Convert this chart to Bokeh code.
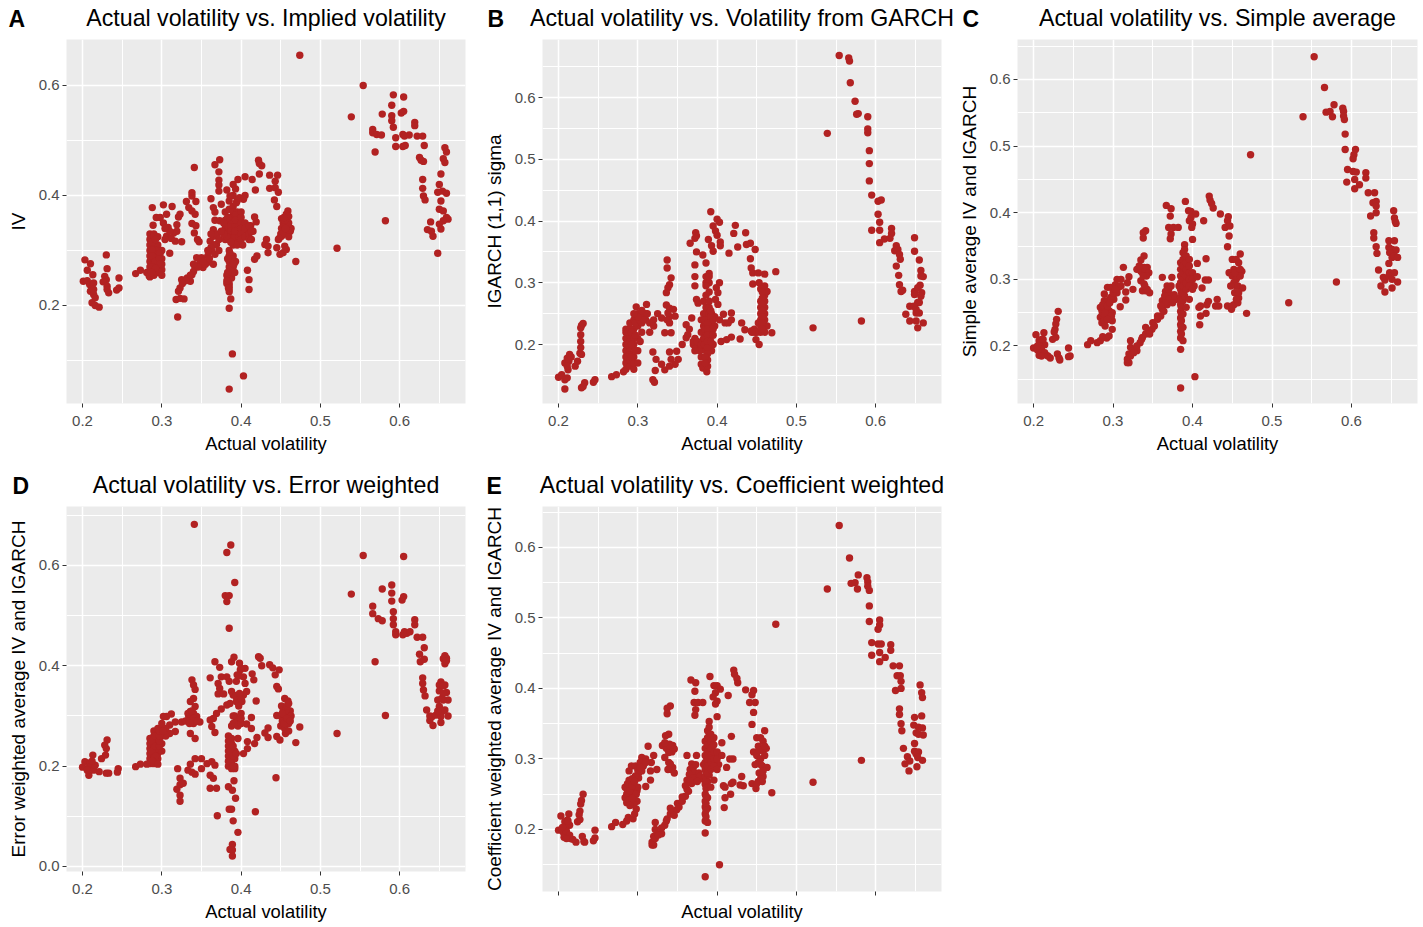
from bokeh.plotting import figure
from bokeh.layouts import column, row
from bokeh.models import FixedTicker, Range1d, PrintfTickFormatter, Title
from bokeh.embed import file_html
from bokeh.resources import INLINE

titles = ["Actual volatility vs. Implied volatility", "Actual volatility vs. Volatility from GARCH",
          "Actual volatility vs. Simple average", "Actual volatility vs. Error weighted",
          "Actual volatility vs. Coefficient weighted"]
letters = ["A", "B", "C", "D", "E"]
y_labels = ["IV", "IGARCH (1,1) sigma", "Simple average IV and IGARCH",
            "Error weighted average IV and IGARCH", "Coefficient weighted average IV and IGARCH"]
x_label = "Actual volatility"
x_ticks = [0.2, 0.3, 0.4, 0.5, 0.6]
x_minor = [0.25, 0.35, 0.45, 0.55, 0.65]

a_points = [
(.203,.283),(.21,.276),(.206,.264),(.201,.244),(.206,.245),(.213,.256),(.209,.238),(.212,.232),(.214,.241),(.21,.226),(.214,.22),(.212,.205),(.216,.2),(.221,.197),(.216,.214),(.214,.229),
(.23,.292),(.231,.267),(.228,.253),(.23,.247),(.226,.243),(.231,.235),(.233,.223),(.231,.229),(.246,.25),(.246,.232),(.243,.228),
(.267,.258),(.273,.264),(.281,.26),(.284,.254),(.285,.252),
(.285,.33),(.285,.32),(.285,.31),(.285,.30),(.285,.29),(.285,.28),(.285,.27),(.29,.33),(.29,.325),(.29,.315),(.29,.305),(.29,.295),(.29,.285),(.29,.275),(.29,.265),(.29,.255),(.295,.325),(.295,.31),(.295,.30),(.295,.29),(.295,.28),(.295,.27),(.295,.26),(.30,.30),(.30,.285),(.30,.275),(.30,.265),(.298,.26),
(.292,.3),(.288,.3),(.288,.29),(.292,.28),(.288,.27),(.288,.315),(.292,.32),(.298,.295),(.297,.285),(.298,.275),(.292,.268),(.287,.26),(.3,.255),
(.288,.378),(.302,.383),(.313,.38),(.293,.36),(.289,.346),(.298,.36),(.306,.366),(.302,.35),(.308,.342),(.319,.347),(.321,.361),(.319,.335),(.306,.326),(.312,.322),(.317,.317),(.325,.316),(.31,.295),(.304,.32),(.315,.332),(.323,.366),(.31,.335),(.304,.34),
(.341,.451),(.338,.405),(.338,.399),(.331,.389),(.343,.389),(.334,.378),(.338,.372),(.342,.366),(.338,.349),(.343,.345),(.341,.332),(.345,.32),(.347,.316),
(.32,.179),(.318,.211),(.323,.213),(.328,.212),(.323,.232),(.325,.247),(.321,.226),(.336,.244),(.338,.256),(.342,.269),(.344,.287),(.348,.278),(.352,.269),(.35,.287),(.359,.279),(.365,.275),(.363,.299),(.367,.293),(.361,.317),(.365,.326),(.369,.311),(.365,.338),(.372,.3),(.366,.31),(.355,.275),(.34,.262),(.332,.25),
(.37,.33),(.372,.32),(.362,.305),(.358,.29),(.36,.285),(.346,.27),(.352,.28),(.34,.275),(.336,.255),(.33,.245),(.326,.24),(.362,.33),(.358,.3),
(.367,.456),(.373,.465),(.372,.443),(.372,.428),(.372,.419),(.372,.408),(.362,.394),(.365,.378),(.367,.37),(.367,.355),(.373,.354),(.375,.384),(.382,.41),
(.38,.37),(.38,.355),(.38,.34),(.38,.33),(.38,.32),(.385,.39),(.385,.375),(.385,.36),(.385,.35),(.385,.34),(.385,.33),(.385,.32),(.385,.30),(.385,.29),(.385,.28),(.385,.27),(.385,.26),(.385,.25),(.385,.24),(.385,.235),(.385,.23),(.385,.225),
(.39,.4),(.39,.38),(.39,.37),(.39,.36),(.39,.35),(.39,.34),(.39,.33),(.39,.32),(.39,.31),(.39,.29),(.39,.28),(.39,.27),(.395,.39),(.395,.37),(.395,.36),(.395,.35),(.395,.34),(.395,.33),(.395,.32),(.395,.31),(.393,.28),(.392,.26),
(.383,.345),(.387,.345),(.392,.345),(.397,.345),(.402,.345),(.408,.335),(.387,.335),(.392,.325),(.397,.325),(.382,.325),(.378,.33),(.388,.355),(.393,.365),(.398,.355),(.383,.36),(.402,.31),(.415,.335),(.412,.345),(.386,.295),(.388,.285),(.388,.27),(.388,.25),(.382,.255),(.382,.24),(.384,.232),(.389,.26),(.391,.275),(.383,.285),(.387,.315),(.392,.335),(.4,.34),(.393,.355),
(.40,.37),(.40,.36),(.40,.35),(.40,.34),(.40,.33),(.40,.32),(.405,.4),(.405,.35),(.405,.34),(.405,.325),(.41,.345),(.41,.33),(.41,.32),(.375,.335),(.378,.35),(.383,.26),(.382,.245),
(.385,.195),(.387,.212),(.389,.112),(.385,.048),(.403,.072),
(.396,.429),(.405,.434),(.414,.429),(.418,.41),(.39,.42),(.393,.412),(.403,.393),(.398,.396),(.386,.399),(.394,.387),
(.422,.464),(.423,.458),(.426,.454),(.423,.439),(.436,.437),(.446,.437),(.443,.426),(.436,.413),(.443,.414),(.447,.406),(.442,.392),(.445,.38),
(.417,.361),(.419,.352),(.413,.335),(.413,.32),(.408,.264),(.41,.247),(.41,.229),(.417,.284),(.42,.29),
(.432,.32),(.43,.311),(.434,.308),(.434,.296),(.445,.305),(.447,.32),(.451,.326),
(.449,.293),(.453,.296),(.457,.302),(.455,.308),(.459,.372),(.457,.366),(.451,.358),(.453,.35),(.46,.34),(.459,.33),(.455,.332),(.451,.34),(.457,.355),(.46,.362),(.463,.34),
(.45,.33),(.455,.345),(.46,.35),(.455,.355),(.452,.33),(.448,.322),(.462,.335),(.46,.325),(.456,.34),(.454,.36),
(.469,.28),(.474,.655),(.521,.304),(.539,.543),(.554,.6),(.582,.354),(.569,.479),
(.566,.52),(.566,.514),(.571,.511),(.577,.51),(.578,.548),(.59,.564),(.592,.583),(.59,.545),(.59,.536),(.592,.524),(.595,.505),(.595,.489),(.604,.489),(.607,.491),(.602,.55),(.605,.553),(.605,.579),(.604,.511),(.606,.508),(.612,.51),
(.619,.533),(.619,.527),(.622,.508),(.629,.508),(.631,.491),(.625,.469),(.627,.464),(.63,.462),(.629,.429),(.629,.413),(.63,.399),(.632,.392),
(.639,.352),(.635,.338),(.64,.335),(.642,.326),(.648,.295),(.657,.487),(.659,.479),(.655,.467),(.657,.46),(.652,.439),(.65,.42),(.654,.408),(.648,.406),(.659,.404),(.652,.39),(.65,.375),(.655,.372),(.659,.36),(.661,.357),(.655,.354),(.65,.348),(.652,.339),
]

b_points = [
(.554,.668),(.566,.664),(.567,.659),(.568,.624),(.574,.594),(.578,.574),(.576,.573),(.59,.569),(.59,.549),(.59,.543),(.539,.542),(.592,.514),(.592,.493),(.592,.465),(.595,.442),(.603,.432),(.607,.434),(.603,.411),(.605,.398),(.595,.385),(.605,.385),(.605,.365),(.611,.371),(.62,.388),(.62,.38),(.618,.372),(.626,.36),(.624,.352),(.628,.354),(.63,.346),(.631,.338),(.626,.327),(.629,.312),(.63,.297),(.632,.286),(.634,.288),
(.649,.373),(.649,.351),(.655,.337),(.657,.32),(.657,.311),(.66,.31),(.656,.296),(.649,.286),(.653,.292),(.658,.284),(.657,.278),(.649,.281),(.653,.268),(.655,.268),(.643,.262),(.648,.262),(.638,.249),(.643,.238),(.651,.251),(.655,.251),(.651,.238),(.653,.227),(.66,.235),(.651,.257),
(.582,.238),(.521,.227),
(.392,.415),(.4,.403),(.403,.398),(.395,.392),(.398,.384),(.4,.377),(.404,.366),(.404,.36),(.423,.393),(.421,.38),(.436,.381),(.426,.358),(.415,.348),(.442,.364),(.437,.362),(.448,.354),(.442,.339),(.443,.324),(.445,.316),(.452,.316),(.46,.314),(.474,.318),(.445,.298),(.453,.3),
(.373,.381),(.374,.376),(.372,.372),(.366,.364),(.374,.35),(.382,.345),(.372,.329),(.386,.332),(.389,.37),(.393,.36),(.395,.351),(.372,.31),(.372,.295),(.374,.273),(.376,.267),
(.337,.337),(.337,.324),(.342,.308),(.34,.297),(.338,.292),(.336,.284),(.311,.265),(.298,.261),
(.2,.147),(.204,.151),(.208,.143),(.211,.146),(.208,.128),(.212,.159),(.208,.17),(.211,.178),(.214,.184),(.213,.173),(.211,.165),(.216,.18),(.221,.165),(.224,.173),(.227,.186),(.229,.184),(.228,.195),(.228,.205),(.228,.216),(.228,.227),(.229,.231),(.231,.234),(.229,.13),(.233,.138),(.231,.132),(.244,.139),(.246,.143),(.267,.148),(.273,.151),(.282,.156),
(.285,.16),(.285,.17),(.285,.18),(.285,.19),(.285,.2),(.285,.21),(.285,.22),(.285,.225),(.29,.165),(.29,.175),(.29,.185),(.29,.195),(.29,.205),(.29,.215),(.29,.225),(.29,.235),(.295,.16),(.295,.17),(.295,.18),(.295,.2),(.295,.21),(.295,.225),(.295,.24),(.3,.19),(.3,.21),(.3,.23),(.3,.25),(.305,.22),(.305,.235),(.305,.25),(.31,.24),(.31,.25),(.315,.22),(.32,.24),(.325,.25),
(.287,.18),(.287,.2),(.287,.22),(.292,.18),(.292,.2),(.292,.22),(.297,.19),(.297,.215),(.297,.235),(.302,.24),(.307,.245),(.303,.205),(.312,.25),(.3,.17),(.308,.24),(.315,.235),(.32,.23),(.34,.245),(.337,.24),(.3,.245),(.295,.25),(.305,.255),
(.319,.188),(.323,.176),(.33,.168),(.322,.158),(.319,.143),(.321,.139),(.334,.159),(.34,.188),(.342,.176),(.349,.189),(.351,.176),(.347,.168),(.34,.165),
(.33,.243),(.336,.264),(.34,.259),(.345,.257),(.347,.246),(.338,.251),(.34,.235),(.334,.219),(.342,.219),
(.356,.2),(.361,.211),(.361,.232),(.368,.243),(.363,.216),(.37,.2),(.374,.195),(.378,.203),(.382,.192),(.38,.168),(.382,.162),(.387,.156),(.365,.225),(.372,.21),(.37,.205),(.375,.205),(.382,.205),(.378,.19),(.372,.19),(.38,.18),
(.38,.2),(.38,.22),(.38,.24),(.383,.21),(.383,.23),(.383,.25),(.383,.27),(.386,.19),(.386,.2),(.386,.21),(.386,.22),(.386,.23),(.386,.24),(.386,.25),(.386,.26),(.386,.28),(.386,.3),(.386,.31),(.39,.19),(.39,.21),(.39,.22),(.39,.23),(.39,.24),(.39,.25),(.39,.26),(.39,.3),(.39,.315),(.393,.22),(.393,.235),(.393,.25),(.397,.23),(.397,.245),(.395,.2),(.393,.19),
(.384,.24),(.384,.225),(.384,.21),(.384,.2),(.388,.235),(.388,.225),(.388,.215),(.388,.205),(.388,.195),(.388,.185),(.388,.175),(.388,.165),(.385,.18),(.385,.17),(.392,.205),(.392,.245),(.392,.255),(.395,.24),(.395,.225),(.395,.215),(.39,.27),(.39,.285),(.386,.295),(.39,.31),
(.405,.205),(.412,.208),(.418,.212),(.408,.249),(.41,.235),(.418,.251),(.418,.24),(.403,.24),(.414,.235),(.431,.235),(.435,.224),(.429,.209),(.443,.222),(.449,.208),(.453,.2),(.447,.225),
(.455,.29),(.455,.27),(.455,.26),(.455,.25),(.455,.24),(.455,.23),(.455,.22),(.46,.295),(.46,.28),(.46,.27),(.46,.26),(.46,.25),(.46,.24),(.46,.23),(.46,.22),(.452,.235),(.463,.23),(.469,.219),(.463,.286),
(.457,.285),(.457,.275),(.457,.265),(.457,.255),(.457,.245),(.457,.235),(.457,.225),(.45,.22),(.448,.22),(.444,.22),
(.403,.3),(.399,.292),(.401,.284),(.398,.273),(.401,.265),
]

c_points = [
(.553,.634),(.566,.588),(.578,.562),(.568,.551),(.573,.552),(.576,.544),(.539,.544),(.589,.557),(.59,.552),(.59,.545),(.591,.54),(.592,.518),(.592,.495),(.605,.495),(.603,.487),(.602,.481),(.595,.465),(.594,.446),(.602,.462),(.606,.461),(.604,.45),(.604,.436),(.61,.442),(.618,.46),(.618,.452),(.621,.43),(.629,.43),(.627,.415),(.631,.417),(.624,.395),(.631,.4),(.631,.41),(.628,.37),(.628,.362),(.631,.349),(.632,.339),(.634,.314),
(.653,.403),(.654,.392),(.655,.387),(.656,.384),(.647,.358),(.654,.358),(.647,.348),(.651,.345),(.656,.344),(.648,.34),(.651,.333),(.654,.335),(.658,.333),(.647,.324),(.64,.303),(.642,.299),(.637,.29),(.642,.281),(.648,.31),(.654,.31),(.647,.305),(.651,.3),(.658,.296),(.651,.287),
(.581,.296),(.521,.265),(.473,.487),(.468,.249),
(.421,.425),(.422,.419),(.424,.414),(.426,.407),(.435,.398),(.445,.394),(.444,.388),(.441,.378),(.447,.38),(.446,.365),(.444,.349),
(.391,.417),(.395,.403),(.398,.402),(.404,.398),(.398,.393),(.396,.388),(.4,.383),(.399,.378),(.414,.388),(.4,.36),
(.367,.411),(.373,.406),(.372,.395),(.37,.378),(.376,.378),(.382,.378),(.373,.368),(.372,.361),(.341,.373),(.338,.37),(.338,.362),
(.339,.335),(.335,.329),(.33,.315),(.335,.318),(.339,.318),(.343,.318),(.337,.31),(.341,.31),(.335,.298),(.339,.293),(.337,.283),(.341,.283),(.346,.28),(.325,.285),(.313,.318),(.32,.304),(.318,.295),(.316,.281),(.316,.269),(.309,.259),
(.335,.312),(.34,.316),(.333,.32),(.345,.31),(.342,.305),(.338,.305),(.343,.285),(.34,.29),
(.203,.217),(.2,.197),(.205,.194),(.213,.22),(.21,.21),(.214,.202),(.207,.208),(.208,.2),(.211,.19),(.215,.187),(.207,.186),(.221,.182),(.23,.188),(.232,.182),(.233,.179),(.244,.197),(.244,.184),(.246,.185),
(.207,.2),(.21,.195),(.205,.2),(.212,.21),(.214,.19),(.21,.185),(.218,.185),
(.224,.21),(.228,.213),(.227,.225),(.228,.233),(.229,.24),(.231,.252),(.226,.221),
(.268,.202),(.272,.208),(.28,.205),(.284,.208),(.287,.214),(.292,.212),
(.289,.278),(.286,.253),(.284,.243),(.286,.235),(.291,.245),(.295,.253),(.299,.25),(.299,.238),(.299,.225),(.295,.215),(.293,.288),(.297,.288),(.301,.278),(.305,.3),(.31,.3),(.303,.292),(.307,.288),(.301,.27),(.297,.273),(.289,.268),(.284,.258),(.291,.26),(.293,.268),(.286,.246),(.289,.238),(.295,.24),(.287,.262),(.305,.28),(.31,.29),
(.287,.25),(.29,.25),(.293,.26),(.296,.265),(.3,.28),(.303,.285),(.298,.245),(.293,.24),(.29,.23),
(.318,.175),(.32,.175),(.322,.208),(.322,.198),(.32,.188),(.325,.193),(.33,.193),(.334,.205),(.337,.213),(.341,.218),(.341,.228),(.345,.223),(.349,.225),(.35,.235),(.356,.24),(.36,.245),(.362,.268),(.362,.255),(.366,.282),(.362,.303),(.374,.303),(.372,.277),(.377,.277),(.372,.268),(.368,.262),(.365,.275),(.368,.29),(.38,.27),
(.37,.27),(.366,.265),(.36,.26),(.364,.252),(.356,.245),(.352,.23),(.346,.218),(.336,.21),(.33,.2),(.318,.18),(.322,.185),(.326,.19),(.378,.272),(.375,.265),(.37,.285),(.373,.29),(.383,.29),
(.385,.273),(.385,.262),(.385,.252),(.385,.242),(.385,.232),(.385,.222),(.385,.212),(.388,.268),(.388,.248),(.388,.228),(.388,.208),(.385,.195),(.385,.137),(.403,.154),
(.386,.28),(.386,.268),(.386,.258),(.386,.248),(.386,.238),(.386,.228),(.386,.218),(.39,.31),(.394,.3),(.394,.31),(.394,.32),(.398,.305),(.39,.32),(.39,.33),(.387,.3),(.39,.285),(.39,.275),(.398,.295),(.402,.29),
(.385,.285),(.385,.295),(.385,.305),(.385,.315),(.385,.325),(.388,.28),(.388,.29),(.388,.3),(.388,.31),(.388,.32),(.388,.33),(.388,.34),(.39,.352),(.39,.345),(.392,.335),(.392,.325),(.392,.315),(.392,.305),(.392,.295),(.392,.285),(.396,.33),(.396,.32),(.396,.31),(.396,.3),(.396,.29),(.4,.31),(.4,.3),(.4,.285),(.396,.27),(.392,.258),
(.406,.324),(.417,.331),(.406,.304),(.412,.287),(.416,.299),(.42,.299),(.41,.26),(.418,.262),(.408,.258),(.41,.245),(.409,.232),(.417,.249),(.42,.267),(.431,.27),(.433,.26),(.429,.26),(.444,.26),(.449,.255),(.452,.262),(.457,.265),
(.45,.33),(.455,.33),(.46,.338),(.458,.325),(.452,.315),(.458,.31),(.462,.312),(.446,.31),(.45,.305),(.455,.3),(.46,.305),(.452,.295),(.457,.29),(.463,.287),(.453,.28),(.458,.272),
(.453,.31),(.455,.29),(.46,.315),(.448,.29),(.458,.28),(.455,.27),(.45,.26),
]

d_points = [
(.341,.682),(.387,.641),(.382,.626),(.392,.566),(.38,.54),(.385,.54),(.382,.528),(.385,.475),
(.554,.62),(.605,.618),(.539,.543),(.578,.553),(.59,.561),(.59,.545),(.59,.529),(.592,.508),(.592,.494),(.592,.482),(.595,.468),(.595,.462),(.603,.531),(.605,.538),(.566,.519),(.566,.504),(.573,.494),(.578,.49),(.569,.408),(.582,.301),(.521,.265),
(.604,.462),(.606,.468),(.609,.465),(.613,.468),(.619,.492),(.619,.482),(.622,.457),(.629,.457),(.631,.436),(.625,.423),(.626,.408),(.631,.413),(.629,.376),(.629,.365),(.63,.352),(.632,.34),(.634,.312),(.638,.3),(.638,.291),(.642,.281),(.641,.299),
(.657,.42),(.659,.415),(.655,.414),(.657,.404),(.659,.41),(.652,.368),(.65,.362),(.657,.362),(.659,.347),(.65,.35),(.661,.332),(.648,.332),(.655,.332),(.65,.319),(.657,.312),(.65,.305),(.646,.302),(.661,.3),(.652,.299),(.652,.287),
(.653,.335),(.655,.345),(.655,.36),(.654,.31),(.648,.31),
(.474,.278),(.469,.247),(.444,.177),(.418,.109),
(.367,.408),(.373,.397),(.361,.376),(.375,.378),(.382,.378),(.385,.369),(.371,.365),(.373,.355),(.371,.344),(.378,.344),(.388,.349),
(.391,.417),(.388,.408),(.398,.405),(.405,.395),(.399,.392),(.395,.382),(.403,.378),(.394,.369),(.405,.365),(.414,.384),(.416,.372),(.422,.418),(.424,.415),(.426,.4),(.436,.402),(.44,.396),(.448,.392),(.443,.382),(.445,.359),(.447,.354),(.4,.395),(.398,.38),
(.419,.33),(.407,.349),(.403,.342),(.396,.335),(.39,.342),(.386,.325),(.394,.329),(.401,.329),(.382,.322),(.375,.314),(.369,.305),(.365,.295),(.361,.292),(.363,.279),(.367,.267),(.393,.34),(.4,.335),(.398,.345),(.397,.32),(.392,.3),(.39,.285),(.394,.29),
(.338,.372),(.34,.362),(.342,.353),(.34,.335),(.336,.329),(.342,.319),(.336,.309),(.34,.305),(.334,.299),(.344,.299),(.338,.292),(.348,.288),(.325,.288),(.336,.265),(.342,.255),(.33,.29),(.335,.29),(.34,.285),(.34,.295),(.34,.29),(.345,.29),(.335,.285),(.333,.305),(.338,.31),
(.312,.304),(.306,.299),(.302,.299),(.317,.288),(.31,.282),(.317,.269),(.31,.265),
(.285,.205),(.285,.215),(.285,.225),(.285,.235),(.285,.245),(.285,.255),(.29,.21),(.29,.22),(.29,.23),(.29,.24),(.29,.25),(.29,.26),(.29,.27),(.295,.215),(.295,.225),(.295,.235),(.295,.245),(.295,.255),(.295,.265),(.295,.275),(.3,.23),(.3,.245),(.3,.26),(.3,.275),(.3,.285),(.305,.26),(.305,.275),
(.287,.23),(.288,.25),(.292,.22),(.292,.24),(.292,.26),(.297,.24),(.297,.25),(.297,.26),(.297,.27),(.302,.27),(.29,.205),(.288,.21),
(.2,.198),(.203,.209),(.208,.2),(.21,.207),(.213,.222),(.208,.182),(.214,.192),(.216,.202),(.221,.189),(.23,.186),(.233,.186),(.245,.195),(.244,.188),(.224,.215),(.229,.222),(.23,.235),(.231,.252),(.228,.242),(.212,.21),(.206,.192),
(.267,.199),(.273,.204),(.281,.204),(.295,.204),
(.32,.195),(.319,.154),(.323,.176),(.323,.163),(.327,.166),(.323,.142),(.323,.13),(.336,.204),(.333,.192),(.338,.188),(.342,.184),(.342,.215),(.35,.215),(.35,.195),(.357,.205),(.363,.209),(.367,.202),(.361,.182),(.365,.176),(.361,.156),(.369,.156),(.37,.101),
(.384,.26),(.384,.25),(.384,.24),(.384,.23),(.384,.22),(.384,.21),(.384,.2),(.388,.255),(.388,.245),(.388,.235),(.388,.225),(.388,.215),(.388,.205),(.388,.195),(.392,.23),(.392,.215),(.392,.2),(.392,.195),
(.386,.21),(.386,.23),(.386,.25),(.39,.2),(.39,.22),(.39,.24),
(.391,.171),(.384,.159),(.389,.152),(.393,.136),(.385,.114),(.388,.114),(.39,.091),(.396,.068),(.389,.044),(.386,.034),(.389,.033),(.389,.021),
(.394,.225),(.403,.225),(.408,.235),(.408,.249),(.417,.245),(.42,.257),(.396,.255),(.388,.28),(.392,.285),(.396,.28),(.4,.285),(.39,.3),(.413,.297),(.407,.284),(.413,.275),(.4,.305),(.4,.295),
(.43,.266),(.434,.276),(.434,.257),(.445,.259),(.449,.252),(.456,.265),(.445,.301),
(.451,.32),(.455,.335),(.459,.33),(.453,.31),(.457,.315),(.462,.31),(.45,.3),(.455,.3),(.46,.3),(.463,.3),(.452,.29),(.457,.29),(.46,.285),(.45,.28),(.455,.275),(.46,.27),
(.456,.31),(.458,.32),(.46,.325),(.454,.285),(.452,.305),(.458,.295),(.462,.29),
]

e_points = [
(.554,.631),(.567,.585),(.578,.561),(.569,.549),(.574,.55),(.577,.541),(.539,.541),(.589,.557),(.59,.551),(.59,.545),(.592,.539),(.592,.517),(.592,.495),(.605,.497),(.605,.49),(.603,.484),(.595,.465),(.595,.447),(.603,.463),(.607,.463),(.605,.451),(.605,.438),(.612,.444),(.619,.462),(.619,.454),(.622,.432),(.63,.432),(.627,.418),(.631,.418),(.625,.397),(.632,.4),(.632,.41),(.63,.371),(.63,.363),(.632,.35),(.633,.34),(.635,.315),
(.656,.405),(.658,.394),(.659,.387),(.649,.359),(.658,.361),(.648,.348),(.654,.345),(.659,.344),(.651,.337),(.654,.335),(.66,.334),(.649,.322),(.64,.303),(.643,.297),(.637,.293),(.642,.283),(.649,.311),(.654,.31),(.651,.307),(.653,.302),(.659,.298),(.652,.289),
(.582,.298),(.521,.267),(.474,.491),(.469,.252),
(.421,.426),(.422,.42),(.425,.414),(.426,.408),(.436,.398),(.446,.397),(.444,.391),(.441,.38),(.448,.38),(.446,.366),(.444,.349),
(.391,.417),(.396,.404),(.4,.404),(.404,.399),(.398,.394),(.395,.388),(.4,.382),(.398,.378),(.414,.39),(.4,.36),
(.367,.412),(.373,.408),(.372,.396),(.371,.38),(.376,.38),(.382,.38),(.373,.37),(.372,.362),(.341,.375),(.337,.372),(.337,.364),
(.339,.335),(.335,.333),(.331,.319),(.336,.321),(.34,.321),(.344,.319),(.338,.314),(.342,.314),(.334,.302),(.339,.295),(.338,.285),(.342,.285),(.346,.28),(.324,.285),(.313,.318),(.32,.305),(.317,.295),(.316,.283),(.316,.27),(.31,.261),
(.336,.315),(.341,.318),(.334,.323),(.346,.314),(.343,.31),(.339,.309),(.344,.288),(.341,.293),
(.203,.219),(.2,.199),(.206,.196),(.213,.222),(.211,.213),(.214,.206),(.208,.211),(.209,.2),(.211,.191),(.215,.187),(.207,.189),(.222,.182),(.23,.19),(.232,.183),(.233,.182),(.246,.199),(.244,.184),(.246,.188),
(.208,.202),(.21,.197),(.205,.203),(.212,.212),(.214,.192),(.21,.187),(.218,.186),
(.224,.211),(.227,.214),(.227,.226),(.228,.236),(.229,.241),(.231,.25),(.226,.221),
(.267,.204),(.272,.21),(.281,.207),(.286,.212),(.288,.217),(.294,.215),(.298,.229),(.296,.222),
(.289,.283),(.286,.258),(.284,.245),(.286,.238),(.291,.25),(.295,.258),(.299,.255),(.299,.24),(.295,.235),(.292,.29),(.297,.29),(.301,.28),(.305,.302),(.31,.3),(.303,.295),(.307,.29),(.301,.273),(.297,.276),(.289,.27),(.284,.26),(.291,.263),(.293,.272),(.286,.25),(.289,.242),(.295,.245),(.287,.265),(.305,.283),(.31,.295),(.3,.26),
(.287,.252),(.29,.255),(.293,.262),(.296,.268),(.3,.284),(.303,.288),(.298,.25),(.293,.244),(.29,.234),
(.318,.178),(.32,.178),(.322,.21),(.322,.2),(.32,.19),(.325,.194),(.33,.194),(.334,.206),(.337,.215),(.341,.222),(.341,.23),(.345,.225),(.349,.228),(.35,.237),(.356,.24),(.36,.247),(.362,.27),(.362,.257),(.366,.285),(.362,.305),(.374,.305),(.372,.28),(.377,.28),(.372,.27),(.368,.265),(.365,.278),(.368,.293),(.38,.272),
(.37,.273),(.366,.268),(.36,.262),(.364,.254),(.356,.246),(.352,.232),(.346,.22),(.336,.212),(.33,.202),(.318,.182),(.322,.187),(.326,.192),(.378,.275),(.375,.268),(.37,.288),(.373,.292),(.383,.292),
(.385,.275),(.385,.264),(.385,.25),(.385,.24),(.385,.232),(.385,.222),(.385,.212),(.388,.268),(.388,.245),(.388,.23),(.388,.21),(.385,.195),(.385,.133),(.403,.15),
(.386,.282),(.386,.27),(.386,.258),(.386,.247),(.386,.237),(.386,.227),(.386,.218),(.39,.312),(.394,.302),(.394,.312),(.394,.322),(.398,.306),(.39,.322),(.39,.332),(.387,.302),(.39,.287),(.39,.277),(.398,.297),(.402,.292),
(.385,.285),(.385,.295),(.385,.305),(.385,.315),(.385,.325),(.388,.28),(.388,.29),(.388,.3),(.388,.31),(.388,.32),(.388,.33),(.388,.34),(.39,.353),(.39,.345),(.392,.335),(.392,.325),(.392,.315),(.392,.305),(.392,.295),(.392,.285),(.396,.33),(.396,.32),(.396,.31),(.396,.3),(.396,.29),(.4,.31),(.4,.3),(.4,.285),(.396,.27),(.392,.26),
(.406,.323),(.418,.332),(.406,.305),(.412,.288),(.416,.3),(.42,.3),(.41,.26),(.418,.265),(.408,.262),(.41,.245),(.409,.231),(.417,.25),(.42,.267),(.431,.275),(.433,.262),(.429,.263),(.444,.265),(.449,.258),(.452,.268),(.457,.268),
(.45,.33),(.455,.33),(.46,.34),(.458,.325),(.452,.318),(.458,.312),(.462,.315),(.446,.31),(.45,.305),(.455,.3),(.46,.305),(.452,.295),(.457,.29),(.463,.288),(.453,.28),(.458,.275),
(.453,.312),(.455,.292),(.46,.318),(.448,.292),(.458,.283),(.455,.272),(.45,.265),
]

x_range = (0.1798, 0.683)
y_ranges = [(0.0218, 0.6836), (0.1045, 0.694), (0.1137, 0.66), (-0.0100, 0.7176), (0.112, 0.658)]
y_ticks = [[0.2, 0.4, 0.6], [0.2, 0.3, 0.4, 0.5, 0.6], [0.2, 0.3, 0.4, 0.5, 0.6],
           [0.0, 0.2, 0.4, 0.6], [0.2, 0.3, 0.4, 0.5, 0.6]]
y_minor = [[0.1, 0.3, 0.5], [0.15, 0.25, 0.35, 0.45, 0.55, 0.65], [0.15, 0.25, 0.35, 0.45, 0.55, 0.65],
           [0.1, 0.3, 0.5, 0.7], [0.15, 0.25, 0.35, 0.45, 0.55, 0.65]]
all_points = [a_points, b_points, c_points, d_points, e_points]

# width, height, border left, right, top, bottom, top margin
boxes = [(476, 471, 66, 11, 47, 60, -8), (478, 471, 66, 13, 47, 60, -8), (469, 471, 63, 6, 47, 60, -8),
         (476, 468, 66, 11, 47, 56, -4), (476, 468, 66, 11, 47, 36, -4)]
letter_at = [-58, -55, -55, -54, -56]
FONT = "Liberation Sans"


def panel(i):
    w, h, bl, br, bt, bb, mt = boxes[i]
    p = figure(width=w, height=h, output_backend="svg", toolbar_location=None,
               x_range=Range1d(*x_range), y_range=Range1d(*y_ranges[i]),
               min_border_left=bl, min_border_right=br, min_border_top=bt, min_border_bottom=bb,
               background_fill_color="#EBEBEB", border_fill_color="white", outline_line_color=None,
               frame_align=False, margin=(mt, 0, 0, 0))
    p.add_layout(Title(text=titles[i], align="center", standoff=18, text_font=FONT, text_font_style="normal",
                       text_font_size="23.2px", text_color="black"), "above")
    p.add_layout(Title(text=letters[i], align="left", offset=letter_at[i], standoff=-76, text_font=FONT,
                       text_font_style="bold", text_font_size="23px", text_color="black"), "above")
    xs = [pt[0] for pt in all_points[i]]
    ys = [pt[1] for pt in all_points[i]]
    p.scatter(xs, ys, size=7.4, marker="circle", fill_color="#B22222", line_color="#B22222", line_width=0)
    for ax, major, minor, lab in ((p.xaxis[0], x_ticks, x_minor, x_label),
                                  (p.yaxis[0], y_ticks[i], y_minor[i], y_labels[i])):
        ax.ticker = FixedTicker(ticks=major, minor_ticks=minor)
        ax.formatter = PrintfTickFormatter(format="%.1f")
        ax.axis_label = lab
        ax.axis_line_color = None
        ax.major_tick_line_color = "#333333"
        ax.major_tick_line_width = 1
        ax.major_tick_out = 4
        ax.major_tick_in = 0
        ax.minor_tick_line_color = None
        ax.major_label_text_font = FONT
        ax.major_label_text_font_size = "15px"
        ax.major_label_text_color = "#4D4D4D"
        ax.axis_label_text_font = FONT
        ax.axis_label_text_font_style = "normal"
        ax.axis_label_text_color = "black"
    p.xaxis[0].axis_label_text_font_size = "18.4px"
    p.yaxis[0].axis_label_text_font_size = "19px"
    p.xaxis[0].major_label_standoff = 8
    p.xaxis[0].axis_label_standoff = 4
    p.yaxis[0].major_label_standoff = 3
    p.yaxis[0].axis_label_standoff = 7
    if i == 4:
        p.xaxis[0].major_label_overrides = {t: "" for t in x_ticks}
        p.xaxis[0].major_label_standoff = 3
        p.xaxis[0].axis_label_standoff = 5
    for g in (p.xgrid[0], p.ygrid[0]):
        g.grid_line_color = "white"
        g.grid_line_width = 1.5
        g.minor_grid_line_color = "white"
        g.minor_grid_line_width = 1
    return p


layout = column(row(panel(0), panel(1), panel(2), spacing=0),
                row(panel(3), panel(4), spacing=0), spacing=0)
open("out.html", "w").write(file_html(layout, INLINE))
